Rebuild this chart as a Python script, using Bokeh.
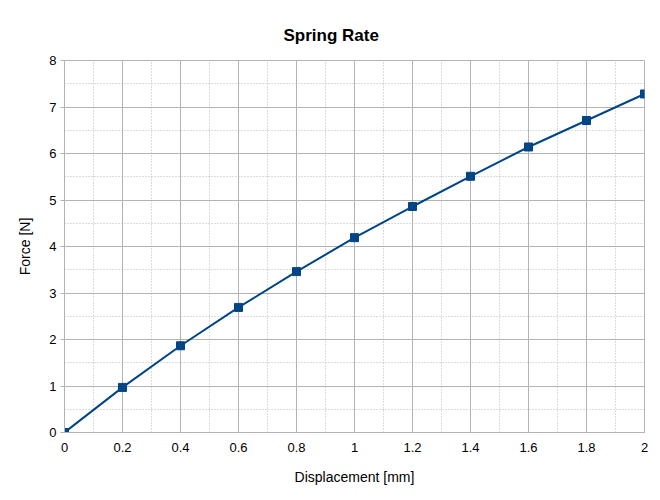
from bokeh.plotting import figure
from bokeh.models import FixedTicker, Range1d
from bokeh.embed import file_html
from bokeh.resources import INLINE

displacement = [0.0, 0.2, 0.4, 0.6, 0.8, 1.0, 1.2, 1.4, 1.6, 1.8, 2.0]
force = [0.0, 0.97, 1.865, 2.69, 3.46, 4.19, 4.86, 5.51, 6.14, 6.71, 7.28]
x_ticks = [0.0, 0.2, 0.4, 0.6, 0.8, 1.0, 1.2, 1.4, 1.6, 1.8, 2.0]
x_labels = {0.0: "0", 0.2: "0.2", 0.4: "0.4", 0.6: "0.6", 0.8: "0.8", 1.0: "1",
            1.2: "1.2", 1.4: "1.4", 1.6: "1.6", 1.8: "1.8", 2.0: "2"}
y_ticks = [0, 1, 2, 3, 4, 5, 6, 7, 8]
x_minor = [0.1, 0.3, 0.5, 0.7, 0.9, 1.1, 1.3, 1.5, 1.7, 1.9]
y_minor = [0.5, 1.5, 2.5, 3.5, 4.5, 5.5, 6.5, 7.5]

FONT = "Liberation Sans"
LINE = "#004586"
GRID = "#b3b3b3"

p = figure(width=648, height=492, output_backend="svg", toolbar_location=None,
           x_range=Range1d(0, 2), y_range=Range1d(0, 8),
           min_border_left=64, min_border_right=4, min_border_top=60, min_border_bottom=60)

p.title.text = "Spring Rate"
p.title.text_font = FONT
p.title.text_font_size = "17px"
p.title.text_font_style = "bold"
p.title.text_color = "#000000"
p.title.align = "left"
p.title.offset = 219
p.title.standoff = 31

p.line(displacement, force, line_color=LINE, line_width=2)
p.scatter(displacement, force, marker="square", size=8, fill_color=LINE, line_color=LINE)

p.xaxis.ticker = FixedTicker(ticks=x_ticks, minor_ticks=x_minor)
p.xaxis.major_label_overrides = x_labels
p.yaxis.ticker = FixedTicker(ticks=y_ticks, minor_ticks=y_minor)

for ax in (p.xaxis[0], p.yaxis[0]):
    ax.axis_line_color = GRID
    ax.major_tick_line_color = GRID
    ax.minor_tick_line_color = None
    ax.major_tick_in = 0
    ax.major_label_text_font = FONT
    ax.major_label_text_font_size = "13px"
    ax.major_label_text_color = "#000000"
    ax.axis_label_text_font = FONT
    ax.axis_label_text_font_size = "14px"
    ax.axis_label_text_font_style = "normal"
    ax.axis_label_text_color = "#000000"

p.xaxis.major_tick_out = 0
p.xaxis.major_label_standoff = 6
p.yaxis.major_tick_out = 4
p.yaxis.major_label_standoff = 4
p.xaxis.axis_label = "Displacement [mm]"
p.yaxis.axis_label = "Force [N]"
p.xaxis.axis_label_standoff = 14
p.yaxis.axis_label_standoff = 13

for g in (p.xgrid[0], p.ygrid[0]):
    g.grid_line_color = GRID
    g.grid_line_width = 1
    g.minor_grid_line_color = "#b8b8b8"
    g.minor_grid_line_dash = "1 2"
    g.minor_grid_line_width = 1

p.outline_line_color = GRID
p.background_fill_color = "white"
p.border_fill_color = "white"

open("out.html", "w").write(file_html(p, INLINE))
